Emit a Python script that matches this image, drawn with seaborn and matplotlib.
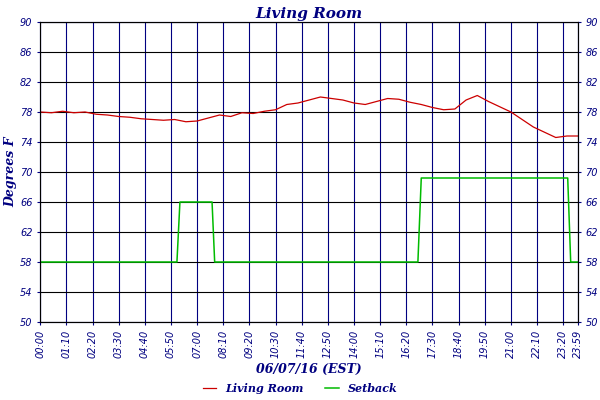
import matplotlib
matplotlib.use("Agg")
import matplotlib.pyplot as plt
import seaborn as sns
import pandas as pd
import numpy as np

room_t = list(range(0, 1440, 30)) + [1439]
room_v = [78.0,77.9,78.1,77.9,78.0,77.7,77.6,77.4,77.3,77.1,77.0,76.9,77.0,76.7,76.8,77.2,
          77.6,77.4,77.9,77.8,78.1,78.3,79.0,79.2,79.6,80.0,79.8,79.6,79.2,79.0,79.4,79.8,
          79.7,79.3,79.0,78.6,78.3,78.4,79.6,80.2,79.4,78.7,78.0,77.0,76.0,75.3,74.6,74.8,74.8]
set_t = [0, 366, 374, 460, 467, 1011, 1020, 1412, 1420, 1439]
set_v = [58, 58, 66, 66, 58, 58, 69.2, 69.2, 58, 58]
xtick_min = list(range(0, 1440, 70)) + [1439]
xtick_lab = [f"{m//60:02d}:{m%60:02d}" for m in xtick_min[:-1]] + ["23:59"]
yticks = list(range(50, 91, 4))

navy = "#000080"
fig, ax = plt.subplots(figsize=(6, 4), dpi=100)
fig.subplots_adjust(left=0.067, right=0.963, top=0.945, bottom=0.195)
sns.lineplot(x=room_t, y=room_v, ax=ax, color="#cc0000", lw=0.9, label="Living Room")
sns.lineplot(x=set_t, y=set_v, ax=ax, color="#00bb00", lw=1.1, label="Setback")
ax.set_xlim(0, 1439); ax.set_ylim(50, 90)
ax.set_xticks(xtick_min); ax.set_xticklabels(xtick_lab, rotation=90, style="italic")
ax.set_yticks(yticks)
ax.set_axisbelow(True)
ax.xaxis.grid(True, color=navy, lw=0.8); ax.yaxis.grid(True, color="black", lw=0.8)
ax.tick_params(colors=navy, labelsize=7, length=2)
for lab in ax.get_yticklabels(): lab.set_style("italic")
for s in ax.spines.values(): s.set_color(navy)
ax2 = ax.twinx(); ax2.set_ylim(50, 90); ax2.set_yticks(yticks)
ax2.tick_params(colors=navy, labelsize=7, length=2)
for lab in ax2.get_yticklabels(): lab.set_style("italic")
f = dict(family="DejaVu Serif", style="italic", weight="bold", color=navy)
ax.set_title("Living Room", fontsize=11, pad=3, **f)
ax.set_xlabel("06/07/16 (EST)", fontsize=9, **f)
ax.set_ylabel("Degrees F", fontsize=9, labelpad=2, **f)
ax.legend_.remove()
h, l = ax.get_legend_handles_labels()
fig.legend(h, l, loc="lower center", ncol=2, frameon=False, bbox_to_anchor=(0.5, -0.01),
           prop=dict(family="DejaVu Serif", style="italic", weight="bold", size=8), labelcolor=navy,
           handlelength=1.2)
fig.savefig("out.png")
